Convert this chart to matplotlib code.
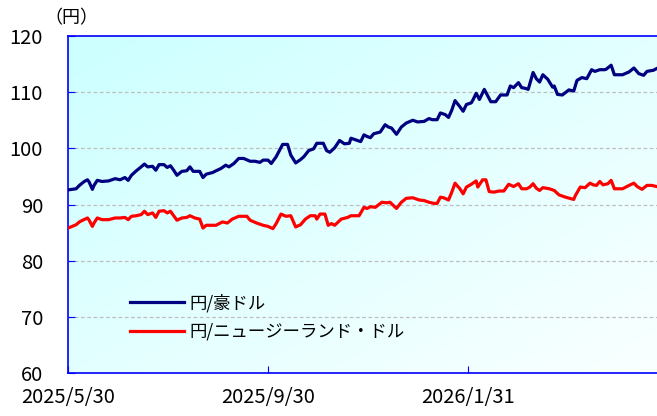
import numpy as np
import pandas as pd
import matplotlib
matplotlib.use("Agg")
import matplotlib.pyplot as plt

plt.rcParams['font.family'] = ['Noto Sans CJK JP', 'DejaVu Sans']

start = pd.Timestamp("2025-05-30")
end_day = 362.2  # right edge of the plot, days after start

# days after 2025/5/30 and yen per AUD
aud_days = [0, 5, 7, 10, 12, 13, 15, 16, 18, 21, 25, 29, 32, 35, 37, 39, 42, 45, 47, 49,
            52, 54, 56, 59, 61, 63, 65, 67, 70, 73, 75, 77, 81, 83, 85, 89,
            91, 94, 97, 99, 102, 105, 108, 112, 115, 118, 120, 123, 125, 128, 132, 135,
            137, 140, 143, 145, 148, 151, 153, 157, 159, 161, 164, 167, 170, 173, 174,
            177, 180, 182, 184,
            186, 188, 192, 195, 197, 199, 202, 205, 208, 212, 215, 219, 222, 224, 227,
            229, 232, 234, 236, 238, 241, 243, 245, 248, 249, 251, 253, 256, 260, 263,
            266, 270, 272, 274, 277,
            279, 281, 283, 286, 288, 290, 292, 295, 298, 299, 301, 304, 308, 311, 313,
            316, 319, 322, 324, 327, 330, 331, 334, 336, 341, 345, 348, 351, 354, 356,
            360, 362]
aud_vals = [92.6, 92.8, 93.4, 94.1, 94.4, 94.0, 92.7, 93.4, 94.3, 94.1, 94.2, 94.6, 94.4,
            94.8, 94.3, 95.2, 96.0, 96.7, 97.2, 96.7, 96.8, 96.1, 97.1, 97.1, 96.6, 96.9,
            96.1, 95.2, 95.9, 96.0, 96.7, 95.9, 95.9, 94.8, 95.4, 95.7,
            96.0, 96.4, 97.0, 96.7, 97.3, 98.2, 98.2, 97.7, 97.7, 97.5, 97.9, 97.9, 97.3,
            98.5, 100.7, 100.7, 98.8, 97.4, 98.0, 98.5, 99.6, 99.9, 100.9, 100.9, 99.6,
            99.3, 100.1, 101.4, 100.8, 100.9, 101.8, 101.5, 101.2, 102.4, 102.1,
            101.9, 102.6, 102.9, 104.2, 103.8, 103.6, 102.5, 103.8, 104.5, 105.0, 104.7,
            104.8, 105.3, 105.1, 105.1, 106.3, 106.0, 105.5, 106.8, 108.5, 107.4, 106.6,
            107.8, 108.1, 108.6, 109.8, 108.7, 110.5, 108.3, 108.3, 109.5, 109.5, 111.1,
            110.8, 111.7,
            110.8, 110.7, 110.5, 113.5, 112.4, 111.8, 113.1, 112.3, 110.9, 111.1, 109.6,
            109.5, 110.4, 110.2, 112.1, 112.6, 112.4, 114.0, 113.7, 114.0, 114.0, 114.1,
            114.8, 113.1, 113.1, 113.6, 114.3, 113.3, 113.0, 113.7, 113.9, 114.2]

# yen per NZD
nzd_days = [0, 5, 7, 9, 12, 13, 15, 16, 18, 21, 25, 29, 32, 35, 37, 39, 42, 45, 47, 49,
            52, 54, 56, 59, 61, 63, 65, 67, 70, 73, 75, 78, 81, 83, 85, 89,
            91, 95, 98, 101, 105, 110, 112, 116, 120, 123, 126, 128, 131, 134, 137, 140,
            143, 146, 149, 152, 153, 155, 158, 160, 162, 164, 168, 172, 174, 179, 182, 184,
            186, 189, 193, 196, 198, 202, 205, 208, 212, 216, 219, 222, 225, 227, 229,
            231, 234, 236, 238, 241, 243, 245, 248, 249, 251, 252, 255, 257, 259, 262,
            265, 268, 271, 274, 277,
            279, 282, 284, 286, 288, 290, 292, 296, 299, 302, 306, 311, 312, 315, 318,
            321, 323, 325, 327, 329, 332, 334, 336, 341, 345, 348, 350, 353, 356, 359, 362]
nzd_vals = [85.8, 86.4, 86.9, 87.2, 87.6, 87.2, 86.1, 86.7, 87.6, 87.3, 87.3, 87.6, 87.6,
            87.7, 87.3, 87.9, 88.0, 88.2, 88.8, 88.2, 88.5, 87.7, 88.8, 88.9, 88.5, 88.8,
            88.0, 87.2, 87.6, 87.7, 88.0, 87.6, 87.4, 85.8, 86.3, 86.3,
            86.3, 86.9, 86.7, 87.4, 87.9, 87.9, 87.2, 86.7, 86.3, 86.1, 85.7, 86.6, 88.3,
            87.9, 88.0, 86.0, 86.4, 87.4, 88.0, 88.0, 87.4, 88.3, 88.3, 86.3, 86.6, 86.3,
            87.4, 87.7, 88.0, 88.0, 89.5, 89.3,
            89.6, 89.5, 90.4, 90.3, 90.4, 89.3, 90.4, 91.1, 91.2, 90.8, 90.7, 90.4, 90.2,
            90.2, 91.3, 91.2, 90.8, 92.2, 93.8, 92.8, 91.9, 93.1, 93.6, 93.8, 94.2, 93.1,
            94.4, 94.4, 92.3, 92.2, 92.4, 92.4, 93.6, 93.2, 93.7,
            92.8, 92.8, 93.1, 93.7, 92.9, 92.5, 93.0, 92.8, 92.5, 91.7, 91.3, 90.9, 91.6,
            93.1, 93.0, 93.8, 93.5, 93.4, 94.1, 93.5, 93.7, 94.3, 92.8, 92.8, 93.4, 93.8,
            93.2, 92.7, 93.4, 93.4, 93.2]

tick_days = [0, 123, 246]
tick_labels = ["2025/5/30", "2025/9/30", "2026/1/31"]
yticks = [60, 70, 80, 90, 100, 110, 120]

aud_dates = start + pd.to_timedelta(aud_days, unit="D")
nzd_dates = start + pd.to_timedelta(nzd_days, unit="D")
tick_dates = start + pd.to_timedelta(tick_days, unit="D")

fig = plt.figure(figsize=(6.57, 4.16), dpi=100)
ax = fig.add_axes([68/657, 1 - 373/416, 1 - 68/657, (373 - 36)/416])

# light cyan (top left) -> near white (bottom right)
gx, gy = np.meshgrid(np.linspace(0, 1, 200), np.linspace(0, 1, 200))
g = np.clip((gx + gy) / 2, 0, 1)
c0 = np.array([0.80, 1.0, 1.0])
c1 = np.array([0.98, 1.0, 1.0])
img = c0 + (c1 - c0) * g[..., None]
ax.imshow(img, extent=[0, 1, 0, 1], transform=ax.transAxes, aspect="auto",
          origin="upper", zorder=0)

ax.plot(aud_dates, aud_vals, color="#000080", lw=2.3, label="円/豪ドル", zorder=3)
ax.plot(nzd_dates, nzd_vals, color="#FF0000", lw=2.3, label="円/ニュージーランド・ドル", zorder=3)

ax.set_xlim(start, start + pd.Timedelta(days=end_day))
ax.set_ylim(60, 120)
ax.set_yticks(yticks)
ax.set_xticks(tick_dates)
ax.set_xticklabels(tick_labels)

for yv in yticks[1:-1]:
    ax.axhline(yv, color="#BFBFBF", lw=0.9, ls=(0, (3, 2)), zorder=1)

for s in ["left", "bottom", "top"]:
    ax.spines[s].set_color("#0000FF")
    ax.spines[s].set_linewidth(1.2)
ax.spines["right"].set_visible(False)

ax.tick_params(axis="both", direction="in", color="#0000FF", width=0.8, length=5,
               labelsize=14.5, colors="#0000FF", labelcolor="#000000")
ax.tick_params(axis="y", pad=18)
ax.tick_params(axis="x", pad=10)

ax.legend(loc="center left", bbox_to_anchor=(0.105, 0.165), frameon=False,
          fontsize=12.5, handlelength=3.1, handletextpad=0.35, labelspacing=0.6,
          borderpad=0, borderaxespad=0)

fig.text(44/657, 1 - 18/416, "（円）", fontsize=13, ha="left", va="center")

fig.savefig("out.png", dpi=100)
